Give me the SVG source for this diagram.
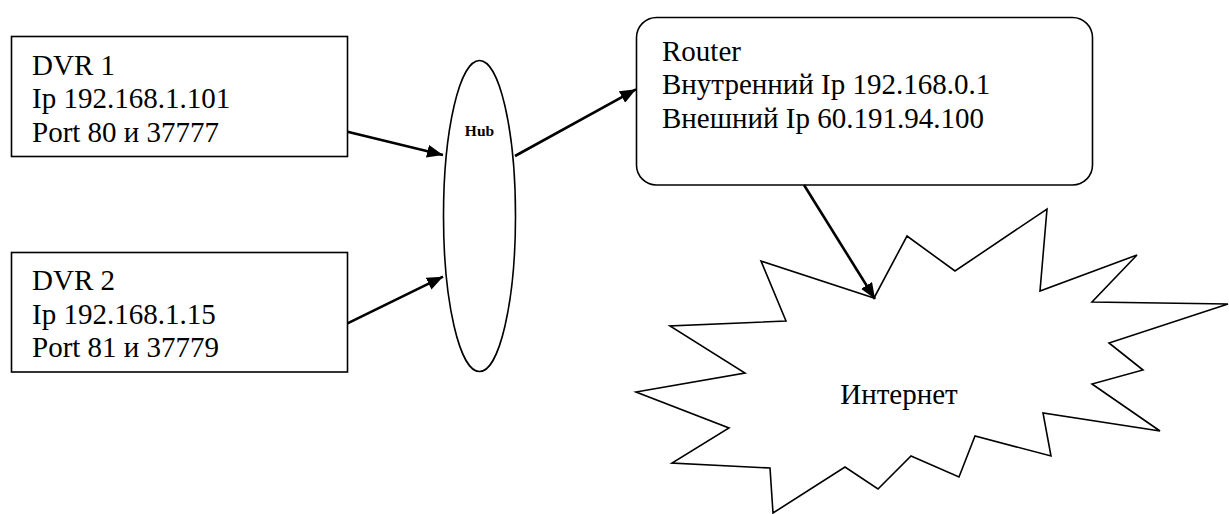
<svg xmlns="http://www.w3.org/2000/svg" width="1229" height="514" viewBox="0 0 1229 514">
  <style>
    .box { fill: #ffffff; stroke: #000000; stroke-width: 1.6; }
    .lbl { font-family: 'Liberation Serif', 'Times New Roman', serif; font-size: 29px; fill: #000000; }
    .hub { font-family: 'Liberation Serif', 'Times New Roman', serif; font-size: 15.5px; font-weight: bold; fill: #000000; }
    .conn { stroke: #000000; stroke-width: 2.6; fill: none; }
  </style>
  <defs>
    <marker id="arrow" markerUnits="userSpaceOnUse" markerWidth="16" markerHeight="13" refX="16" refY="6.5" orient="auto">
      <path d="M0,0 L16,6.5 L0,13 z" fill="#000000"/>
    </marker>
  </defs>
  <rect width="1229" height="514" fill="#ffffff"/>

  <g id="internet">
    <polygon class="box" stroke-width="1.8" points="874,298 907,236 955,271 1047,209 1040,291 1137,255 1092,302 1228,304 1109,343 1143,370 1092,384 1160,431 1043,413 1051,456 975,436 959,477 911,456 878,489 845,467 773,513 770,468 672,463 729,428 636,392 745,373 670,326 786,321 761,261"/>
    <text class="lbl" x="899" y="404" text-anchor="middle">Интернет</text>
  </g>

  <g id="dvr1">
    <rect class="box" x="11.5" y="36.5" width="336" height="120"/>
    <text class="lbl" x="32" y="74.5">DVR 1</text>
    <text class="lbl" x="32" y="108">Ip 192.168.1.101</text>
    <text class="lbl" x="32" y="141.5">Port 80 и 37777</text>
  </g>

  <g id="dvr2">
    <rect class="box" x="11.5" y="252.5" width="336" height="119.5"/>
    <text class="lbl" x="32" y="290">DVR 2</text>
    <text class="lbl" x="32" y="323.5">Ip 192.168.1.15</text>
    <text class="lbl" x="32" y="357">Port 81 и 37779</text>
  </g>

  <g id="hub">
    <ellipse class="box" cx="479.5" cy="216" rx="36" ry="155.5"/>
    <text class="hub" x="479.5" y="136" text-anchor="middle">Hub</text>
  </g>

  <g id="router">
    <rect class="box" x="636.5" y="17.5" width="456" height="167.5" rx="20" ry="20"/>
    <text class="lbl" x="662" y="60.5">Router</text>
    <text class="lbl" x="662" y="94">Внутренний Ip 192.168.0.1</text>
    <text class="lbl" x="662" y="127.5">Внешний Ip 60.191.94.100</text>
  </g>

  <g id="connectors">
    <line class="conn" x1="347.5" y1="131.7" x2="443" y2="155" marker-end="url(#arrow)"/>
    <line class="conn" x1="347.5" y1="323.3" x2="443" y2="276.7" marker-end="url(#arrow)"/>
    <line class="conn" x1="515" y1="156" x2="636" y2="89.3" marker-end="url(#arrow)"/>
    <line class="conn" x1="804" y1="185" x2="875" y2="299" marker-end="url(#arrow)"/>
  </g>
</svg>
